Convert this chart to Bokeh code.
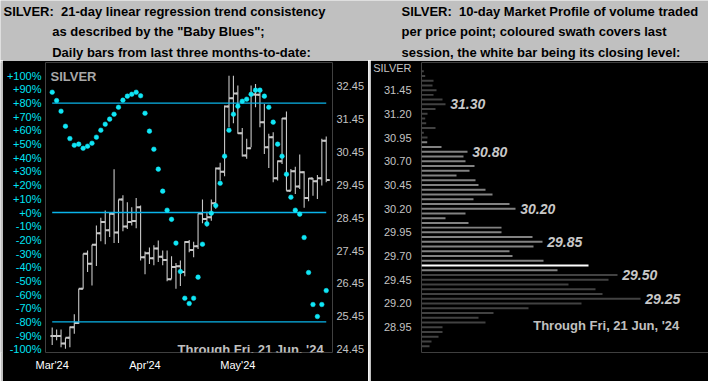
from bokeh.plotting import figure
from bokeh.layouts import column, row
from bokeh.models import Range1d, LinearAxis, FixedTicker, Label, ColumnDataSource
from bokeh.embed import file_html
from bokeh.resources import INLINE
from bokeh.core.properties import value

# ---------------- data ----------------
month_labels = ["Mar'24", "Apr'24", "May'24"]
month_bar_index = [0, 21, 42]

bar_high = [25.11, 25.05, 25.05, 24.80, 25.14, 25.51, 26.29, 27.35, 27.45, 27.63,
            28.21, 28.45, 28.67, 28.62, 29.92, 29.00, 29.13, 28.92, 28.77, 29.05,
            28.82, 27.42, 27.54, 27.61, 27.76, 27.45, 27.45, 27.28, 27.07, 27.15,
            27.73, 27.77, 27.72, 28.58, 29.00, 28.63, 29.00, 29.98, 30.12, 31.86,
            32.77, 32.77, 32.47, 31.18, 30.85, 32.47, 32.52, 32.37, 31.91, 31.00,
            31.05, 30.19, 31.48, 31.68, 29.93, 30.00, 30.37, 29.86, 29.66, 29.66,
            29.75, 30.85, 30.92]
bar_low = [24.58, 24.72, 24.51, 24.46, 24.51, 24.92, 25.22, 26.29, 26.80, 26.39,
           26.98, 27.73, 27.64, 27.86, 27.68, 27.68, 28.04, 28.11, 28.21, 28.13,
           27.15, 26.73, 27.04, 27.00, 27.10, 27.00, 26.52, 26.59, 26.29, 26.37,
           26.67, 27.40, 27.25, 27.50, 28.28, 28.18, 28.36, 28.72, 29.58, 29.71,
           31.20, 31.32, 31.00, 30.31, 30.24, 30.59, 31.81, 31.20, 30.39, 29.96,
           29.53, 29.58, 30.08, 29.27, 29.27, 29.17, 29.32, 28.75, 28.95, 29.12,
           29.02, 29.43, 29.53]
bar_close = [24.85, 24.85, 24.62, 24.80, 25.12, 25.25, 26.29, 27.35, 27.05, 27.63,
             27.98, 28.32, 28.07, 28.57, 28.00, 29.00, 28.18, 28.32, 28.35, 28.77,
             27.25, 27.37, 27.22, 27.51, 27.26, 27.16, 26.58, 26.95, 26.97, 26.80,
             27.71, 27.47, 27.58, 28.58, 28.41, 28.46, 28.89, 29.95, 29.85, 31.83,
             32.08, 32.23, 31.02, 30.34, 30.56, 32.20, 32.19, 31.35, 30.59, 30.90,
             29.65, 30.17, 31.47, 29.27, 29.86, 29.40, 29.83, 29.05, 29.64, 29.56,
             29.65, 30.79, 29.60]
baby_blues = [88.0, 81.9, 74.1, 63.1, 54.1, 49.2, 50.0, 47.0, 48.5, 50.7,
              55.1, 60.2, 64.6, 68.3, 71.9, 77.0, 82.2, 85.1, 86.5, 88.0,
              85.4, 72.6, 59.5, 46.3, 31.7, 15.6, 1.7, -5.0, -22.4, -43.2,
              -62.7, -66.6, -62.7, -47.3, -23.2, -8.3, -0.5, 5.1, 21.4, 41.2,
              60.2, 71.9, 77.8, 81.4, 82.9, 86.5, 89.5, 89.5, 85.1, 77.0,
              66.1, 50.0, 41.2, 28.0, 11.2, 1.7, -1.2, -18.3, -43.9, -67.3,
              -76.1, -67.3, -57.1]
band_levels = [80, 0, -80]
pct_ticks = [-100, -90, -80, -70, -60, -50, -40, -30, -20, -10, 0,
             10, 20, 30, 40, 50, 60, 70, 80, 90, 100]
price_ticks = [24.45, 25.45, 26.45, 27.45, 28.45, 29.45, 30.45, 31.45, 32.45]

profile_price = [31.65, 31.60, 31.55, 31.50, 31.45, 31.40, 31.35, 31.30, 31.25, 31.20,
                 31.15, 31.10, 31.05, 31.00, 30.95, 30.90, 30.85, 30.80, 30.75, 30.70,
                 30.65, 30.60, 30.55, 30.50, 30.45, 30.40, 30.35, 30.30, 30.25, 30.20,
                 30.15, 30.10, 30.05, 30.00, 29.95, 29.90, 29.85, 29.80, 29.75, 29.70,
                 29.65, 29.60, 29.55, 29.50, 29.45, 29.40, 29.35, 29.30, 29.25, 29.20,
                 29.15, 29.10, 29.05, 29.00, 28.95, 28.90, 28.85, 28.80, 28.75]
profile_volume = [2.3, 3.7, 12, 11, 15, 12, 21, 24, 14, 6,
                  3.7, 4.7, 14, 2.3, 6, 5.7, 20, 46, 42, 44,
                  53, 48, 35, 54, 57, 64, 71, 52, 88, 94,
                  44, 24, 47, 80, 80, 111, 121, 112, 88, 91,
                  122, 167, 136, 196, 187, 147, 174, 181, 219, 160,
                  107, 72, 57, 64, 21, 21, 17, 10, 8]
profile_marked = [31.30, 30.80, 30.20, 29.85, 29.50, 29.25]
profile_ticks = [28.95, 29.20, 29.45, 29.70, 29.95, 30.20, 30.45, 30.70, 30.95, 31.20, 31.45]

title_left = ["SILVER:\u00a0 21-day linear regression trend consistency",
              "as described by the \"Baby Blues\";",
              "Daily bars from last three months-to-date:"]
title_right = ["SILVER:\u00a0 10-day Market Profile of volume traded",
               "per price point; coloured swath covers last",
               "session, the white bar being its closing level:"]
through_text = "Through Fri, 21 Jun, '24"

# ---------------- layout constants ----------------
FONT = "Liberation Sans"
HDR_BG = "#c0c0c0"
BAR_C = "#c8c8c8"
DOT_C = "#10e6f6"
LINE_C = "#0ab4ea"
TOTAL_W, HDR_H, P_H = 708, 60, 321
STRIP_W = 2
L_X0, L_W = 2, 366          # left panel figure: page x 2..367
R_X0, R_W = 370, 338        # right panel figure: page x 370..707


def styled(fig, bg="black"):
    fig.background_fill_color = bg
    fig.border_fill_color = bg
    fig.outline_line_color = None
    fig.grid.visible = False
    return fig


def strip(color):
    s = figure(width=STRIP_W, height=P_H, x_range=Range1d(0, 1), y_range=Range1d(0, 1),
               toolbar_location=None, output_backend="svg", x_axis_location=None,
               y_axis_location=None, min_border=0)
    return styled(s, color)


# ---------------- header ----------------
hdr = figure(width=TOTAL_W, height=HDR_H, x_range=Range1d(0, TOTAL_W), y_range=Range1d(HDR_H, 0),
             toolbar_location=None, output_backend="svg", x_axis_location=None,
             y_axis_location=None, min_border=0)
styled(hdr, HDR_BG)
for k, (tl, tr) in enumerate(zip(title_left, title_right)):
    hdr.add_layout(Label(x=3 if k == 0 else 51.7, y=11 + 20.35 * k, text=tl,
                         text_font=FONT, text_font_size="13px", text_font_style="bold",
                         text_color="black", text_baseline="middle", text_align="left"))
    hdr.add_layout(Label(x=401, y=11 + 20.35 * k, text=tr,
                         text_font=FONT, text_font_size="13px", text_font_style="bold",
                         text_color="black", text_baseline="middle", text_align="left"))

# ---------------- left panel ----------------
# frame edges in page pixels
FL, FR, FT, FB = 45, 332, 62, 352


def idx_of(xr):
    return (xr - 51.7) / 4.42


def price_of(yr):
    return 32.45 - (yr - 85.7) / 32.875


def pct_of(yr):
    return (212 - yr) / 1.367


left = figure(width=L_W, height=P_H,
              x_range=Range1d(idx_of(FL), idx_of(FR)),
              y_range=Range1d(price_of(FB), price_of(FT)),
              toolbar_location=None, output_backend="svg",
              x_axis_location="below", y_axis_location=None,
              min_border_left=FL - L_X0, min_border_right=L_X0 + L_W - FR,
              min_border_top=FT - HDR_H, min_border_bottom=HDR_H + P_H - FB)
styled(left)
left.extra_y_ranges = {"pct": Range1d(pct_of(FB), pct_of(FT))}

pct_axis = LinearAxis(y_range_name="pct", ticker=FixedTicker(ticks=pct_ticks),
                      major_label_overrides={t: f"{t:+d}%" for t in pct_ticks})
left.add_layout(pct_axis, "left")
price_axis = LinearAxis(ticker=FixedTicker(ticks=price_ticks),
                        major_label_overrides={t: f"{t:.2f}" for t in price_ticks})
left.add_layout(price_axis, "right")
left.xaxis.ticker = FixedTicker(ticks=month_bar_index)
left.xaxis.major_label_overrides = dict(zip(month_bar_index, month_labels))

for ax in left.axis:
    ax.axis_line_color = None
    ax.major_tick_line_color = None
    ax.minor_tick_line_color = None
    ax.major_tick_out = 0
    ax.major_tick_in = 0
    ax.major_label_text_font = FONT
    ax.major_label_text_font_size = "11px"
pct_axis.major_label_text_color = "#00e4f4"
pct_axis.major_label_standoff = 4
price_axis.major_label_text_color = "#c4c4c4"
price_axis.major_label_standoff = 4
left.xaxis.major_label_text_color = "white"
left.xaxis.major_label_standoff = 6

n = len(baby_blues)
idx = list(range(n))
bar_open = [bar_close[0]] + bar_close[:-1]
bars = ColumnDataSource(dict(x=idx, hi=bar_high, lo=bar_low, cl=bar_close, op=bar_open,
                             xr=[i + 0.8 for i in idx], xl=[i - 0.4 for i in idx]))
left.segment(x0="x", y0="lo", x1="x", y1="hi", source=bars, line_color=BAR_C, line_width=1.1)
left.segment(x0="x", y0="cl", x1="xr", y1="cl", source=bars, line_color=BAR_C, line_width=2)
left.segment(x0="xl", y0="op", x1="x", y1="op", source=bars, line_color=BAR_C, line_width=2)

bands = ColumnDataSource(dict(x0=[0] * len(band_levels), x1=[n - 1] * len(band_levels),
                              y=band_levels))
left.segment(x0="x0", y0="y", x1="x1", y1="y", source=bands, y_range_name="pct",
             line_color=LINE_C, line_width=1.3)
left.scatter(x=idx, y=baby_blues, y_range_name="pct", marker="circle", size=4.6,
             fill_color=DOT_C, line_color=DOT_C, line_width=0.5)

left.add_layout(Label(x=idx_of(50), y=price_of(75.7), text="SILVER", text_font=FONT,
                      text_font_size="13px", text_font_style="bold", text_color="#a8a8a8",
                      text_baseline="middle", text_align="left"))
left.add_layout(Label(x=idx_of(177), y=price_of(349), text=through_text, text_font=FONT,
                      text_font_size="13px", text_font_style="bold", text_color="#c0c0c0",
                      text_baseline="middle", text_align="left"))

# ---------------- right panel ----------------
RFL, RFT = 421, 62


def rprice_of(yr):
    return 29.45 + (301 - yr) / 104.3


silver_tick = round(rprice_of(68.3), 3)
right = figure(width=R_W, height=P_H,
               x_range=Range1d(0, R_X0 + R_W - RFL),
               y_range=Range1d(rprice_of(HDR_H + P_H), rprice_of(RFT)),
               toolbar_location=None, output_backend="svg",
               x_axis_location=None, y_axis_location="left",
               min_border_left=RFL - R_X0, min_border_right=0,
               min_border_top=RFT - HDR_H, min_border_bottom=0)
styled(right)
ov = {t: f"{t:.2f}" for t in profile_ticks}
ov[silver_tick] = "SILVER"
right.yaxis.ticker = FixedTicker(ticks=profile_ticks + [silver_tick])
right.yaxis.major_label_overrides = ov
ax = right.yaxis[0]
ax.axis_line_color = None
ax.major_tick_line_color = None
ax.minor_tick_line_color = None
ax.major_tick_out = 0
ax.major_tick_in = 0
ax.major_label_text_font = FONT
ax.major_label_text_font_size = "11px"
ax.major_label_text_color = "#c4c4c4"
ax.major_label_standoff = 10

last_close = round(bar_close[-1] / 0.05) * 0.05
colors = []
for pr in profile_price:
    if abs(pr - last_close) < 1e-6:
        colors.append("#ffffff")
    elif bar_low[-1] <= pr <= bar_high[-1]:
        colors.append("#828282")
    else:
        colors.append("#424242")
right.hbar(y=profile_price, left=0, right=profile_volume, height=0.021,
           fill_color=colors, line_color=None)

vol_at = dict(zip(profile_price, profile_volume))
right.text(x=[vol_at[p] for p in profile_marked], y=profile_marked,
           text=[f"{p:.2f}" for p in profile_marked], x_offset=4.7,
           text_font=value(FONT), text_font_size="14px", text_font_style="bold italic",
           text_color="#c8c8c8", text_baseline="middle", text_align="left")
right.add_layout(Label(x=532.7 - RFL, y=rprice_of(351), text=through_text, text_font=FONT,
                       text_font_size="13px", text_font_style="bold", text_color="#c0c0c0",
                       text_baseline="middle", text_align="left"))

page = column(hdr, row(strip("#c0c0c0"), left, strip("#dcdcdc"), right, spacing=0), spacing=0)
open("out.html", "w").write(file_html(page, INLINE))
